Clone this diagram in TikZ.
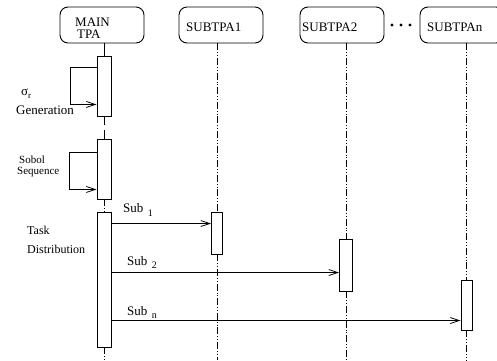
\documentclass[tikz,border=0pt]{standalone}
\usepackage{fontspec}
\setmainfont{Liberation Serif}
\usetikzlibrary{arrows.meta, positioning}

\tikzset{
  headbox/.style={draw, line width=0.9pt, rounded corners=8pt,
    minimum width=84pt, minimum height=36pt, inner sep=0pt},
  headtxt/.style={inner sep=0pt, anchor=west, align=left,
    font=\fontsize{13}{12}\selectfont},
  actbox/.style={draw, line width=0.9pt, inner sep=0pt},
  lifeline/.style={line width=0.7pt,
    dash pattern=on 7pt off 2pt on 0.8pt off 2pt on 0.8pt off 2pt},
  msg/.style={line width=0.8pt, -{Straight Barb[length=9pt,width=6pt]}},
  note/.style={inner sep=0pt, anchor=base west}
}

\begin{document}
\begin{tikzpicture}[x=1pt, y=-1pt]
\useasboundingbox (0,0) rectangle (497,360);

% heads
\node[headbox] (main) at (102,25) {};
\node[headbox] (sub1) at (221,25) {};
\node[headbox] (sub2) at (342,25) {};
\node[headbox] (subn) at (462,25) {};
\node[headtxt] (maintxt) at (75,28.7) {MAIN\\\hspace*{2pt}TPA};
\node[headtxt] (sub1txt) at (186,27) {SUBTPA1};
\node[headtxt] (sub2txt) at (302,27) {SUBTPA2};
\node[headtxt] (subntxt) at (427,27) {SUBTPAn};
\foreach \x in {392,401,410}
  \fill (\x,25) circle (1.6pt);

% activations
\node[actbox, minimum width=14pt, minimum height=60pt] (m1) at (104,86) {};
\node[actbox, minimum width=14pt, minimum height=60pt] (m2) at (104,169) {};
\node[actbox, minimum width=14pt, minimum height=135pt] (m3) at (104,279.5) {};
\node[actbox, minimum width=11pt, minimum height=42pt] (s1) at (217,233) {};
\node[actbox, minimum width=13pt, minimum height=52pt] (s2) at (346,265) {};
\node[actbox, minimum width=11pt, minimum height=50pt] (sn) at (466.5,305) {};
\coordinate (bot) at (0,360);

% lifelines
\draw[line width=0.8pt] (m1.north |- main.south) -- (m1.north);
\draw[line width=0.8pt, dash pattern=on 9pt off 5pt] (m1.south) -- (m2.north);
\draw[lifeline] (m2.south) -- (m3.north);
\draw[lifeline] (m3.south) -- (m3.south |- bot);
\draw[lifeline] (s1.north |- sub1.south) -- (s1.north);
\draw[lifeline] (s1.south) -- (s1.south |- bot);
\draw[lifeline] (s2.north |- sub2.south) -- (s2.north);
\draw[lifeline] (s2.south) -- (s2.south |- bot);
\draw[lifeline] (sn.north |- subn.south) -- (sn.north);
\draw[lifeline] (sn.south) -- (sn.south |- bot);

% self calls
\draw[msg] ([yshift=-12pt]m1.north west) -- ++(-26,0) |- ([yshift=12pt]m1.south west);
\draw[msg] ([yshift=-14pt]m2.north west) -- ++(-27,0) |- ([yshift=10pt]m2.south west);

% task messages
\draw[msg] ([yshift=-12pt]m3.north east) coordinate (a1) -- (a1 -| s1.west);
\draw[msg] ([yshift=-61pt]m3.north east) coordinate (a2) -- (a2 -| s2.west);
\draw[msg] ([yshift=-109pt]m3.north east) coordinate (an) -- (an -| sn.west);

% labels
\node[note, font=\fontsize{13}{13}\selectfont] (sigma) at (21,95)
  {σ\raisebox{-3pt}{\fontsize{9}{9}\selectfont r}};
\node[note, font=\fontsize{13}{13}\selectfont] (gen) at (16,114) {Generation};
\node[note, font=\fontsize{11}{11}\selectfont] (sobol) at (19,163) {Sobol};
\node[note, font=\fontsize{11}{11}\selectfont] (seq) at (17,174) {Sequence};
\node[note, font=\fontsize{12}{12}\selectfont] (task) at (27,234) {Task};
\node[note, font=\fontsize{12}{12}\selectfont] (distr) at (27,253) {Distribution};
\node[note, font=\fontsize{13}{13}\selectfont] (lab1) at (123,212)
  {Sub\hspace{4.5pt}\raisebox{-4pt}{\fontsize{10}{10}\selectfont 1}};
\node[note, font=\fontsize{13}{13}\selectfont] (lab2) at (127,265)
  {Sub\hspace{4.5pt}\raisebox{-3pt}{\fontsize{10}{10}\selectfont 2}};
\node[note, font=\fontsize{13}{13}\selectfont] (labn) at (127,315)
  {Sub\hspace{4.5pt}\raisebox{-3pt}{\fontsize{10}{10}\selectfont n}};
\end{tikzpicture}
\end{document}
